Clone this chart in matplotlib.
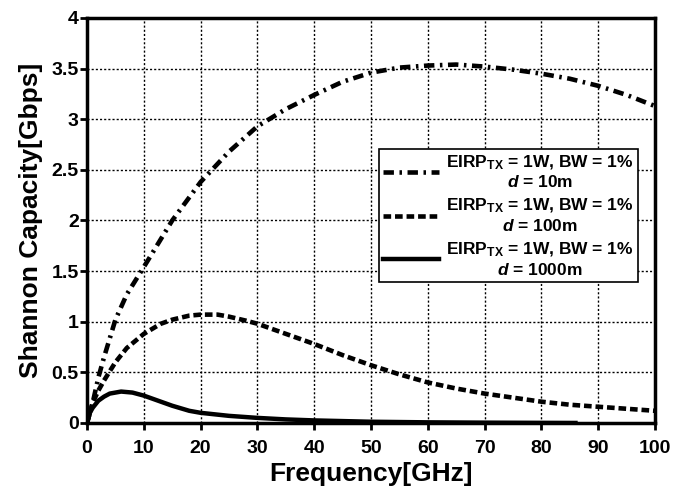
import matplotlib.pyplot as plt

plt.rcParams['font.family'] = ['Liberation Sans', 'DejaVu Sans']
plt.rcParams['font.weight'] = 'bold'
plt.rcParams['mathtext.fontset'] = 'custom'
plt.rcParams['mathtext.rm'] = 'Liberation Sans:bold'
plt.rcParams['mathtext.it'] = 'Liberation Sans:bold:italic'
plt.rcParams['mathtext.bf'] = 'Liberation Sans:bold'
plt.rcParams['lines.scale_dashes'] = False

# 数据：频率 (GHz) 与香农容量 (Gbps)
freq_10m = [0, 1, 2, 3, 5, 7, 10, 15, 20, 25, 30, 35, 40, 45, 50, 55, 60, 65, 70, 75, 80, 85, 90, 95, 100]
cap_10m = [0, 0.2, 0.45, 0.65, 1.02, 1.27, 1.54, 2.0, 2.38, 2.68, 2.93, 3.1, 3.24, 3.37, 3.46, 3.51, 3.53, 3.54, 3.52, 3.49, 3.45, 3.4, 3.33, 3.24, 3.13]

freq_100m = [0, 1, 2, 3, 5, 7, 10, 13, 15, 18, 20, 23, 25, 28, 30, 35, 40, 45, 50, 55, 60, 65, 70, 75, 80, 85, 90, 95, 100]
cap_100m = [0, 0.2, 0.32, 0.42, 0.6, 0.74, 0.88, 0.98, 1.02, 1.06, 1.07, 1.07, 1.05, 1.01, 0.98, 0.88, 0.78, 0.67, 0.57, 0.48, 0.40, 0.34, 0.29, 0.25, 0.21, 0.18, 0.16, 0.14, 0.12]

freq_1000m = [0, 0.5, 1, 2, 3, 4, 6, 8, 10, 12, 15, 18, 20, 25, 30, 35, 40, 50, 60, 70, 80, 86]
cap_1000m = [0, 0.1, 0.15, 0.22, 0.26, 0.29, 0.31, 0.3, 0.27, 0.23, 0.17, 0.12, 0.1, 0.07, 0.05, 0.035, 0.025, 0.012, 0.006, 0.003, 0.001, 0.0]

labels = [r'EIRP$_{\mathrm{TX}}$ = 1W, BW = 1%' + '\n' + r'$d$ = 10m',
          r'EIRP$_{\mathrm{TX}}$ = 1W, BW = 1%' + '\n' + r'$d$ = 100m',
          r'EIRP$_{\mathrm{TX}}$ = 1W, BW = 1%' + '\n' + r'$d$ = 1000m']

fig = plt.figure(figsize=(6.88, 4.97), dpi=100)
ax = fig.add_axes([0.1265, 0.149, 0.8255, 0.8148])

ax.plot(freq_10m, cap_10m, color='black', linewidth=3.3, dashes=(7.5, 4, 1.8, 4), label=labels[0])
ax.plot(freq_100m, cap_100m, color='black', linewidth=3.3, dashes=(5.5, 2.8), label=labels[1])
ax.plot(freq_1000m, cap_1000m, color='black', linewidth=3.2, label=labels[2])

ax.set_xlim(0, 100)
ax.set_ylim(0, 4)
ax.set_xticks(range(0, 101, 10))
ax.set_yticks([0, 0.5, 1, 1.5, 2, 2.5, 3, 3.5, 4])
ax.set_yticklabels(['0', '0.5', '1', '1.5', '2', '2.5', '3', '3.5', '4'])
ax.tick_params(labelsize=14, width=2, length=5, direction='out')
ax.tick_params(axis='x', pad=7)
ax.tick_params(axis='y', pad=1)
ax.grid(True, color='black', linestyle=(0, (1.5, 1.5)), linewidth=1)
for s in ax.spines.values():
    s.set_linewidth(2.5)

ax.set_xlabel('Frequency[GHz]', fontsize=19, fontweight='bold', labelpad=4)
ax.set_ylabel('Shannon Capacity[Gbps]', fontsize=19, fontweight='bold', labelpad=6)

leg = ax.legend(loc='upper left', bbox_to_anchor=(0.514, 0.677), fontsize=12.5,
                frameon=True, fancybox=False, edgecolor='black', framealpha=1,
                handlelength=3.2, labelspacing=0.4, borderpad=0.25, handletextpad=0.4,
                borderaxespad=0)
leg.get_frame().set_linewidth(1.2)
plt.setp(leg.get_texts(), multialignment='center')

fig.savefig('out.png', dpi=100)
